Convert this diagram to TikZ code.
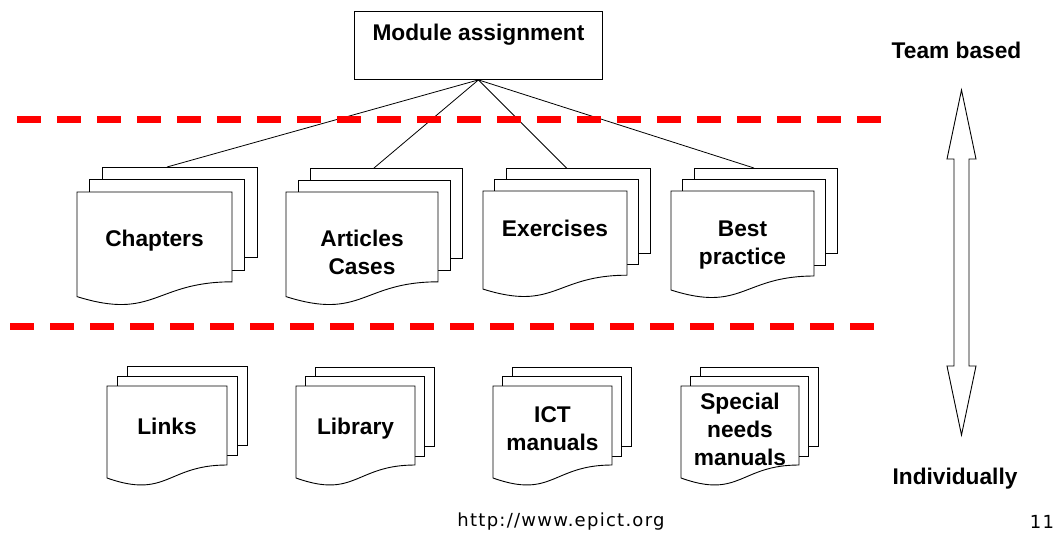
\documentclass[tikz,border=0pt]{standalone}
\usepackage{fontspec}
\setmainfont{Liberation Sans}
\newfontfamily\footfont[LetterSpace=7]{DejaVu Sans}

% A stack of three pages: two plain sheets behind a front sheet with a wavy foot.
% #1 name, #2/#3 top-left of the front sheet, #4 width, #5 height,
% #6 offset between sheets, #7 label centre below the top, #8 label
\newcommand\multidoc[8]{%
  \begin{scope}[shift={(#2,#3)}]
    \filldraw[page] ({2*#6},{-2*#6}) rectangle ++(#4,{0.81*#5});
    \filldraw[page] ({#6},{-#6}) rectangle ++(#4,{0.81*#5});
    \filldraw[page] (0,0) -- (#4,0) -- (#4,{0.802*#5})
      .. controls ({#4/2},{0.802*#5}) and ({#4/2},{1.15*#5}) .. (0,{0.934*#5}) -- cycle;
    \node[doclabel] (#1) at ({#4/2},#7) {#8};
    \coordinate (#1-top) at ({(#4+2*#6)/2},{-2*#6});
  \end{scope}}

\begin{document}
\begin{tikzpicture}[x=1pt,y=-1pt,
  page/.style={draw=black, fill=white, line width=0.9pt},
  doclabel/.style={font=\fontsize{22.7}{28}\selectfont\bfseries, align=center, inner sep=0pt},
  sidelabel/.style={font=\fontsize{22.7}{28}\selectfont\bfseries, inner sep=0pt},
  box/.style={draw=black, fill=white, line width=0.9pt, inner sep=0pt},
  link/.style={draw=black, line width=0.8pt},
  divider/.style={draw=red, line width=7pt, dash pattern=on 24pt off 16pt},
  twoway/.style={draw=black, fill=white, line width=0.9pt, line join=miter},
  footer/.style={font=\footfont\fontsize{18}{20}\selectfont, inner sep=0pt}]

% page frame
\fill[white] (0,0) rectangle (1053,533);
\useasboundingbox (0,0) rectangle (1053,533);

% top-level assignment
\node[box, minimum width=248pt, minimum height=68pt, anchor=north west,
  label={[anchor=center, yshift=-23.5pt, font=\fontsize{22.7}{28}\selectfont\bfseries, inner sep=0pt]north:Module assignment}]
  (ma) at (354,11) {};

% team based materials
\multidoc{chap}{77}{192}{155}{112}{12.5}{49}{Chapters}
\multidoc{art}{286}{192}{152}{112}{12}{60}{Articles\\Cases}
\multidoc{ex}{483}{191}{144}{105}{11.5}{37}{Exercises}
\multidoc{best}{671}{191}{143}{106}{11.5}{54}{Best\\practice}

% individual materials
\multidoc{links}{107}{386}{120}{98.5}{10}{40}{Links}
\multidoc{lib}{296}{386}{119}{98.5}{9.5}{43}{Library}
\multidoc{ict}{493}{386}{119}{98.5}{9.5}{42.5}{ICT\\manuals}
\multidoc{special}{681}{386}{118}{98.5}{9.5}{43}{Special\\needs\\manuals}

% links from the assignment
\draw[link] (ma.south) -- (chap-top);
\draw[link] (ma.south) -- (art-top);
\draw[link] (ma.south) -- (ex-top);
\draw[link] (ma.south) -- (best-top);

% level dividers
\draw[divider] (17,119) -- (881,119);
\draw[divider] (10,326) -- (874,326);

% scale from team work to individual work
\draw[twoway] (961.5,90) -- (976,159) -- (969,159) -- (969,366) -- (976,366)
  -- (961.5,435) -- (947,366) -- (954,366) -- (954,159) -- (947,159) -- cycle;
\node[sidelabel] (team) at (956.5,50) {Team based};
\node[sidelabel] (indiv) at (955,479) {Individually};

% footer
\node[footer] (url) at (561,522) {http://www.epict.org};
\node[footer] (pageno) at (1042,522) {11};
\end{tikzpicture}
\end{document}
